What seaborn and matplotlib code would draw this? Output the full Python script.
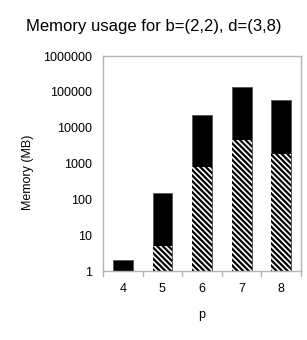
import matplotlib
matplotlib.use("Agg")
import matplotlib.pyplot as plt
import seaborn as sns
import pandas as pd

# values (MB, log scale)
p_values = ["4", "5", "6", "7", "8"]
total_mem = [2, 148, 22000, 138000, 60000]
hatched_mem = [1, 5, 820, 4550, 1900]

sns.set_theme(style="white")
plt.rcParams['font.family'] = ['Liberation Sans', 'DejaVu Sans']
plt.rcParams['text.color'] = 'black'
plt.rcParams['axes.labelcolor'] = 'black'
plt.rcParams['xtick.color'] = 'black'
plt.rcParams['ytick.color'] = 'black'
plt.rcParams['hatch.linewidth'] = 1.6
plt.rcParams['hatch.color'] = 'black'

df = pd.DataFrame({'p': p_values, 'total': total_mem, 'lower': hatched_mem})

fig = plt.figure(figsize=(3.07, 3.40), dpi=100)
ax = fig.add_axes([103 / 307, 1 - 271 / 340, 198 / 307, 215 / 340])
ax.set_yscale('log')

sns.barplot(data=df, x='p', y='total', color='black', width=0.5,
            saturation=1, edgecolor='#555555', linewidth=0.6, ax=ax)
n_first = len(ax.patches)
sns.barplot(data=df, x='p', y='lower', color='white', width=0.5,
            saturation=1, edgecolor='black', linewidth=0, ax=ax)
for bar in ax.patches[n_first:]:
    bar.set_hatch('\\' * 6)

ax.set_ylim(1, 1e6)
ax.set_xlim(-0.5, 4.5)
ax.set_yticks([1, 10, 100, 1000, 10000, 100000, 1000000])
ax.set_yticklabels(['1', '10', '100', '1000', '10000', '100000', '1000000'])
ax.minorticks_off()
ax.tick_params(axis='y', length=0, labelsize=9, pad=8)
ax.tick_params(axis='x', length=0, labelsize=9, pad=9)

# category separator ticks below the axis
for xb in [-0.5, 0.5, 1.5, 2.5, 3.5, 4.5]:
    ax.plot([xb, xb], [0, -0.025], transform=ax.get_xaxis_transform(),
            color='#b3b3b3', lw=1, clip_on=False)

for side in ['top', 'right', 'left', 'bottom']:
    ax.spines[side].set_visible(True)
    ax.spines[side].set_color('#b3b3b3')
    ax.spines[side].set_linewidth(1)

ax.set_xlabel('p', fontsize=9, labelpad=10)
ax.set_ylabel('Memory (MB)', fontsize=9)
ax.yaxis.set_label_coords(-0.35, 0.46)
fig.suptitle('Memory usage for b=(2,2), d=(3,8)', x=0.5, y=1 - 27 / 340,
             va='center', fontsize=12)

fig.savefig('out.png', dpi=100)
